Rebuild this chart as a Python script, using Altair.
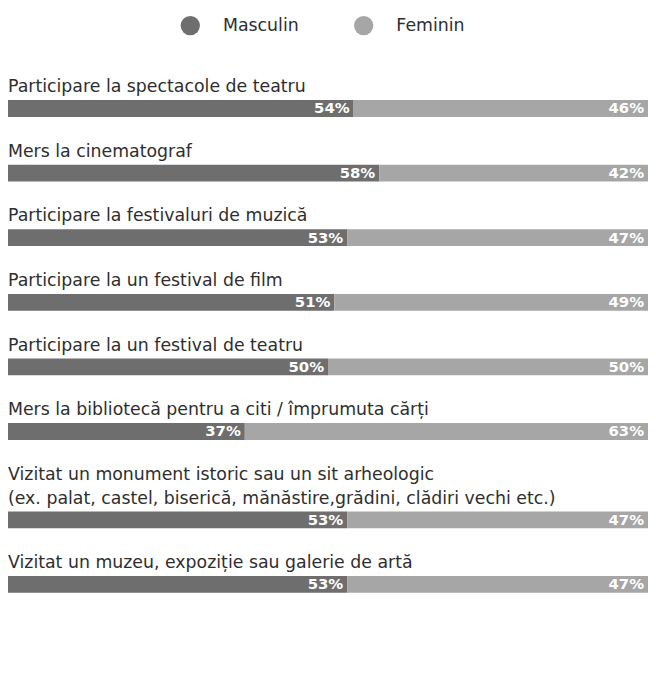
import altair as alt
import pandas as pd

series = ["Masculin", "Feminin"]
colors = ["#6e6e6e", "#a6a6a6"]

categories = [
    "Participare la spectacole de teatru",
    "Mers la cinematograf",
    "Participare la festivaluri de muzică",
    "Participare la un festival de film",
    "Participare la un festival de teatru",
    "Mers la bibliotecă pentru a citi / împrumuta cărți",
    "Vizitat un monument istoric sau un sit arheologic\n(ex. palat, castel, biserică, mănăstire,grădini, clădiri vechi etc.)",
    "Vizitat un muzeu, expoziție sau galerie de artă",
]
masculin = [54, 58, 53, 51, 50, 37, 53, 53]
feminin = [46, 42, 47, 49, 50, 63, 47, 47]

FONT = "DejaVu Sans"
W = 646
LABEL_SIZE = 17.5
LINE_H = 23.5
TEXT_COLOR = "#2e2e2e"

rows = []
for i, c in enumerate(categories):
    rows.append({"cat": c, "series": "Masculin", "value": masculin[i], "ord": 0})
    rows.append({"cat": c, "series": "Feminin", "value": feminin[i], "ord": 1})
df = pd.DataFrame(rows)

color_scale = alt.Scale(domain=series, range=colors)
xscale = alt.Scale(domain=[0, 100])

# legend panel
leg_df = pd.DataFrame({"series": series, "idx": [0, 1]})
leg_x = alt.X("idx:Q", scale=alt.Scale(domain=[0, 1], range=[184, 359]), axis=None)
leg_pts = alt.Chart(leg_df).mark_circle(size=380, opacity=1).encode(
    x=leg_x, y=alt.value(15),
    color=alt.Color("series:N", scale=color_scale, legend=None),
)
leg_txt = alt.Chart(leg_df).mark_text(
    align="left", baseline="middle", dx=33, font=FONT, fontSize=LABEL_SIZE,
    color=TEXT_COLOR,
).encode(x=leg_x, y=alt.value(15), text="series:N")
legend_panel = (leg_pts + leg_txt).properties(width=W, height=42)

panels = [legend_panel]
for c in categories:
    n_lines = c.count("\n") + 1
    base = alt.Chart(df).transform_filter(alt.datum.cat == c).transform_window(
        end="sum(value)", sort=[alt.SortField("ord")], frame=[None, 0]
    )
    bars = base.mark_bar(size=17).encode(
        x=alt.X("value:Q", stack="zero", scale=xscale, axis=None),
        color=alt.Color("series:N", scale=color_scale, legend=None),
        order=alt.Order("ord:Q"),
    )
    pct = base.transform_calculate(lbl="datum.value + '%'").mark_text(
        align="right", baseline="middle", dx=-4, font=FONT, fontSize=15,
        fontWeight="bold", color="white",
    ).encode(
        x=alt.X("end:Q", scale=xscale, axis=None),
        text="lbl:N",
    )
    name = base.transform_filter(alt.datum.ord == 0).mark_text(
        align="left", baseline="bottom", font=FONT, fontSize=LABEL_SIZE,
        color=TEXT_COLOR, lineBreak="\n", lineHeight=LINE_H,
    ).encode(x=alt.value(0), y=alt.value(-4 - LINE_H * (n_lines - 1)), text="cat:N")
    panels.append((bars + pct + name).properties(width=W, height=17))

chart = alt.vconcat(*panels, spacing=26.2).properties(padding=0).configure_view(
    stroke=None
)

chart.save("out.html", embed_options={"renderer": "svg", "actions": False})
